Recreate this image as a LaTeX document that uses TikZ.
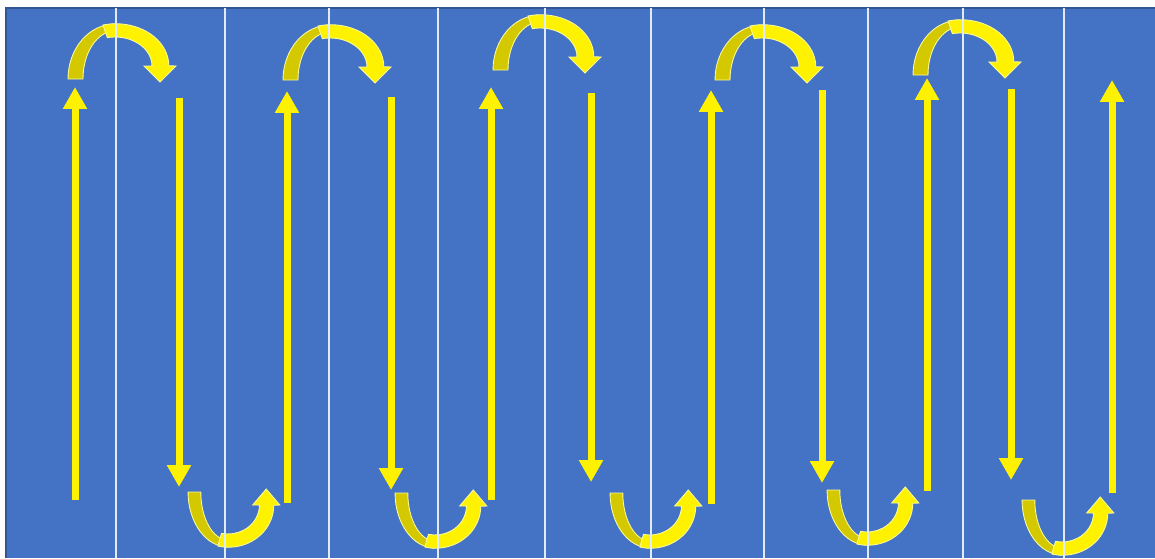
\documentclass[tikz,border=0pt]{standalone}
\usepackage{tikz}
\usetikzlibrary{arrows.meta}
\definecolor{slide}{RGB}{68,114,196}
\definecolor{gold}{RGB}{212,200,0}
\definecolor{rim}{RGB}{250,250,150}
\definecolor{sep}{RGB}{225,235,248}

\begin{document}
\begin{tikzpicture}[x=0.02cm, y=-0.02cm,
    shaft/.style={yellow, line width=0.14cm, -{Triangle[width=0.46cm,length=0.44cm]}},
    sepline/.style={sep, line width=0.6pt},
    underside/.style={fill=gold, draw=rim, line width=0.5pt},
    topside/.style={fill=yellow, draw=rim, line width=0.5pt},
    pics/hoop/.style={code={
        \draw[underside] (-47,55) arc[start angle=180, end angle=270, x radius=47, y radius=55]
            -- (0,7) arc[start angle=270, end angle=180, x radius=32, y radius=48] -- cycle;
        \draw[topside] (-12,1) arc[start angle=256, end angle=360, x radius=53, y radius=42]
            -- (61,42) -- (45,58) -- (29,42) -- (37,42)
            arc[start angle=0, end angle=-102, x radius=37, y radius=29] -- cycle;
    }}]
    \useasboundingbox (0,0) rectangle (1155,558);
    \fill[white] (0,0) rectangle (1155,558);
    \fill[slide] (6,8) rectangle (1155,558);
    \draw[slide!75!black, line width=1pt] (6,558) -- (6,8) -- (1155,8);

    % straight arrows
    \foreach \n/\x/\ya/\yb in {1/75/500/87, 2/287/503/91, 3/491/500/87,
                               4/711/504/90, 5/927/491/78, 6/1112/493/80} {
        \coordinate (up\n) at (\x,\ya);
        \coordinate (upend\n) at (\x,\yb);
        \draw[shaft] (up\n) -- (upend\n);
    }
    \foreach \n/\x/\ya/\yb in {1/179/98/487, 2/391/97/490, 3/591/93/482,
                               4/822/90/483, 5/1011/89/480} {
        \coordinate (down\n) at (\x,\ya);
        \coordinate (downend\n) at (\x,\yb);
        \draw[shaft] (down\n) -- (downend\n);
    }

    % curved arrows, top and bottom
    \pic (top1) at (115,24) {hoop};
    \pic (top2) at (330,25) {hoop};
    \pic (top3) at (540,15) {hoop};
    \pic (top4) at (762,25) {hoop};
    \pic (top5) at (960,20) {hoop};
    \pic[yscale=-1, xscale=0.85] (bot1) at (228,547) {hoop};
    \pic[yscale=-1, xscale=0.85] (bot2) at (435,548) {hoop};
    \pic[yscale=-1, xscale=0.85] (bot3) at (650,548) {hoop};
    \pic[yscale=-1, xscale=0.85] (bot4) at (867,545) {hoop};
    \pic[yscale=-1, xscale=0.85] (bot5) at (1062,555) {hoop};

    \foreach \x in {116,225,329,438,545,651,764,868,963,1064}
        \draw[sepline] (\x,8) -- (\x,558);
\end{tikzpicture}
\end{document}
